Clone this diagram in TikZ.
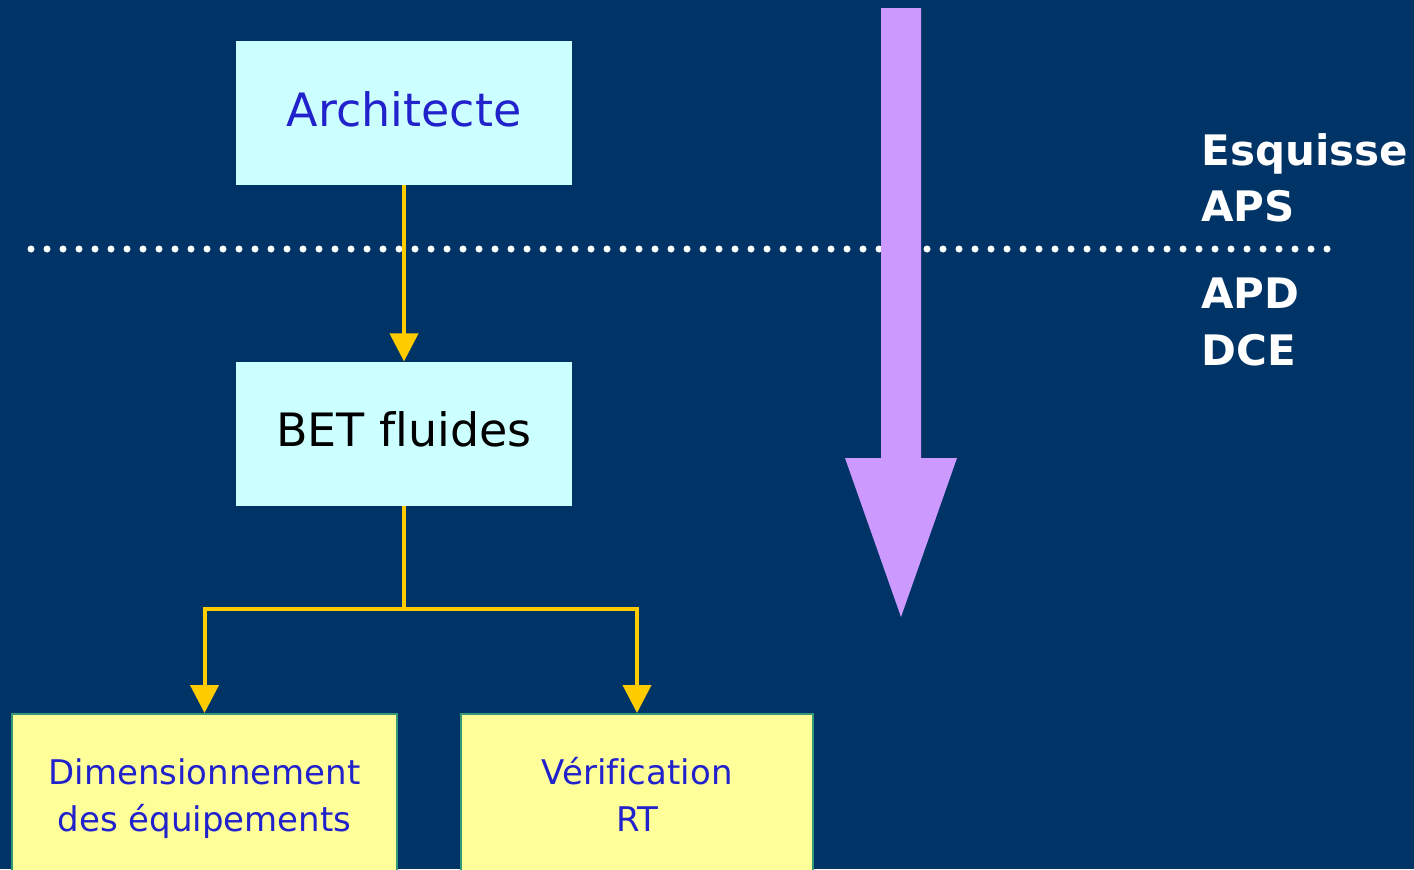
\documentclass[tikz,border=0pt]{standalone}
\usepackage{fontspec}
\setmainfont{DejaVu Sans}[Ligatures=NoCommon]
\usepackage{tikz}
\usetikzlibrary{arrows.meta,positioning}
\definecolor{slidebg}{HTML}{003366}
\definecolor{cyanfill}{HTML}{CCFFFF}
\definecolor{paleyellow}{HTML}{FFFF99}
\definecolor{tealline}{HTML}{339977}
\definecolor{linkyellow}{HTML}{FFCC00}
\definecolor{lilac}{HTML}{CC99FF}
\definecolor{textblue}{HTML}{2222CC}
\tikzset{actor/.style={fill=cyanfill,minimum width=168pt,minimum height=72pt,align=center,
   text height=17.5pt,text depth=4.5pt,font=\fontsize{23}{28}\selectfont},
 task/.style={draw=tealline,line width=1pt,fill=paleyellow,minimum height=85pt,align=center,
   text=textblue,text height=36.5pt,text depth=4.5pt,font=\fontsize{17}{23.5}\selectfont},
 phase/.style={anchor=base west,inner sep=0pt,text=white,font=\fontsize{21}{25}\selectfont\bfseries},
 link/.style={-{Triangle[length=14pt,width=14pt]},draw=linkyellow,line width=2pt},
 separator/.style={draw=white,line width=3.5pt,line cap=round,dash pattern=on 0pt off 8pt}}
\begin{document}
\begin{tikzpicture}[x=0.5pt,y=-0.5pt,node distance=88pt]
\path[use as bounding box,fill=slidebg] (0,0) rectangle (1414,869);
\clip (0,0) rectangle (1414,869);

\coordinate (sepL) at (31,249);
\coordinate (sepR) at (1327,249);
\draw[separator] (sepL) -- (sepR);

\node[actor,text=textblue] (arch) at (404,113) {Architecte};
\node[actor,below=of arch] (bet) {BET fluides};
\node[task,minimum width=192.5pt,anchor=north] (dim) at (204.5,713) {Dimensionnement\\des équipements};
\node[task,minimum width=176pt,anchor=north] (verif) at (637,713) {Vérification\\RT};
\coordinate[below=51.5pt of bet.south] (split);

\draw[link] (arch) -- (bet);
\draw[draw=linkyellow,line width=2pt] (bet) -- (split);
\draw[link] (split) -| (dim);
\draw[link] (split) -| (verif);

\fill[lilac] (881,8) -- (921,8) -- (921,458) -- (957,458) -- (901,617)
  -- (845,458) -- (881,458) -- cycle;

\node[phase] (esq) at (1201,165) {Esquisse};
\node[phase] (aps) at (1201,221) {APS};
\node[phase] (apd) at (1201,308) {APD};
\node[phase] (dce) at (1201,365) {DCE};
\end{tikzpicture}
\end{document}
